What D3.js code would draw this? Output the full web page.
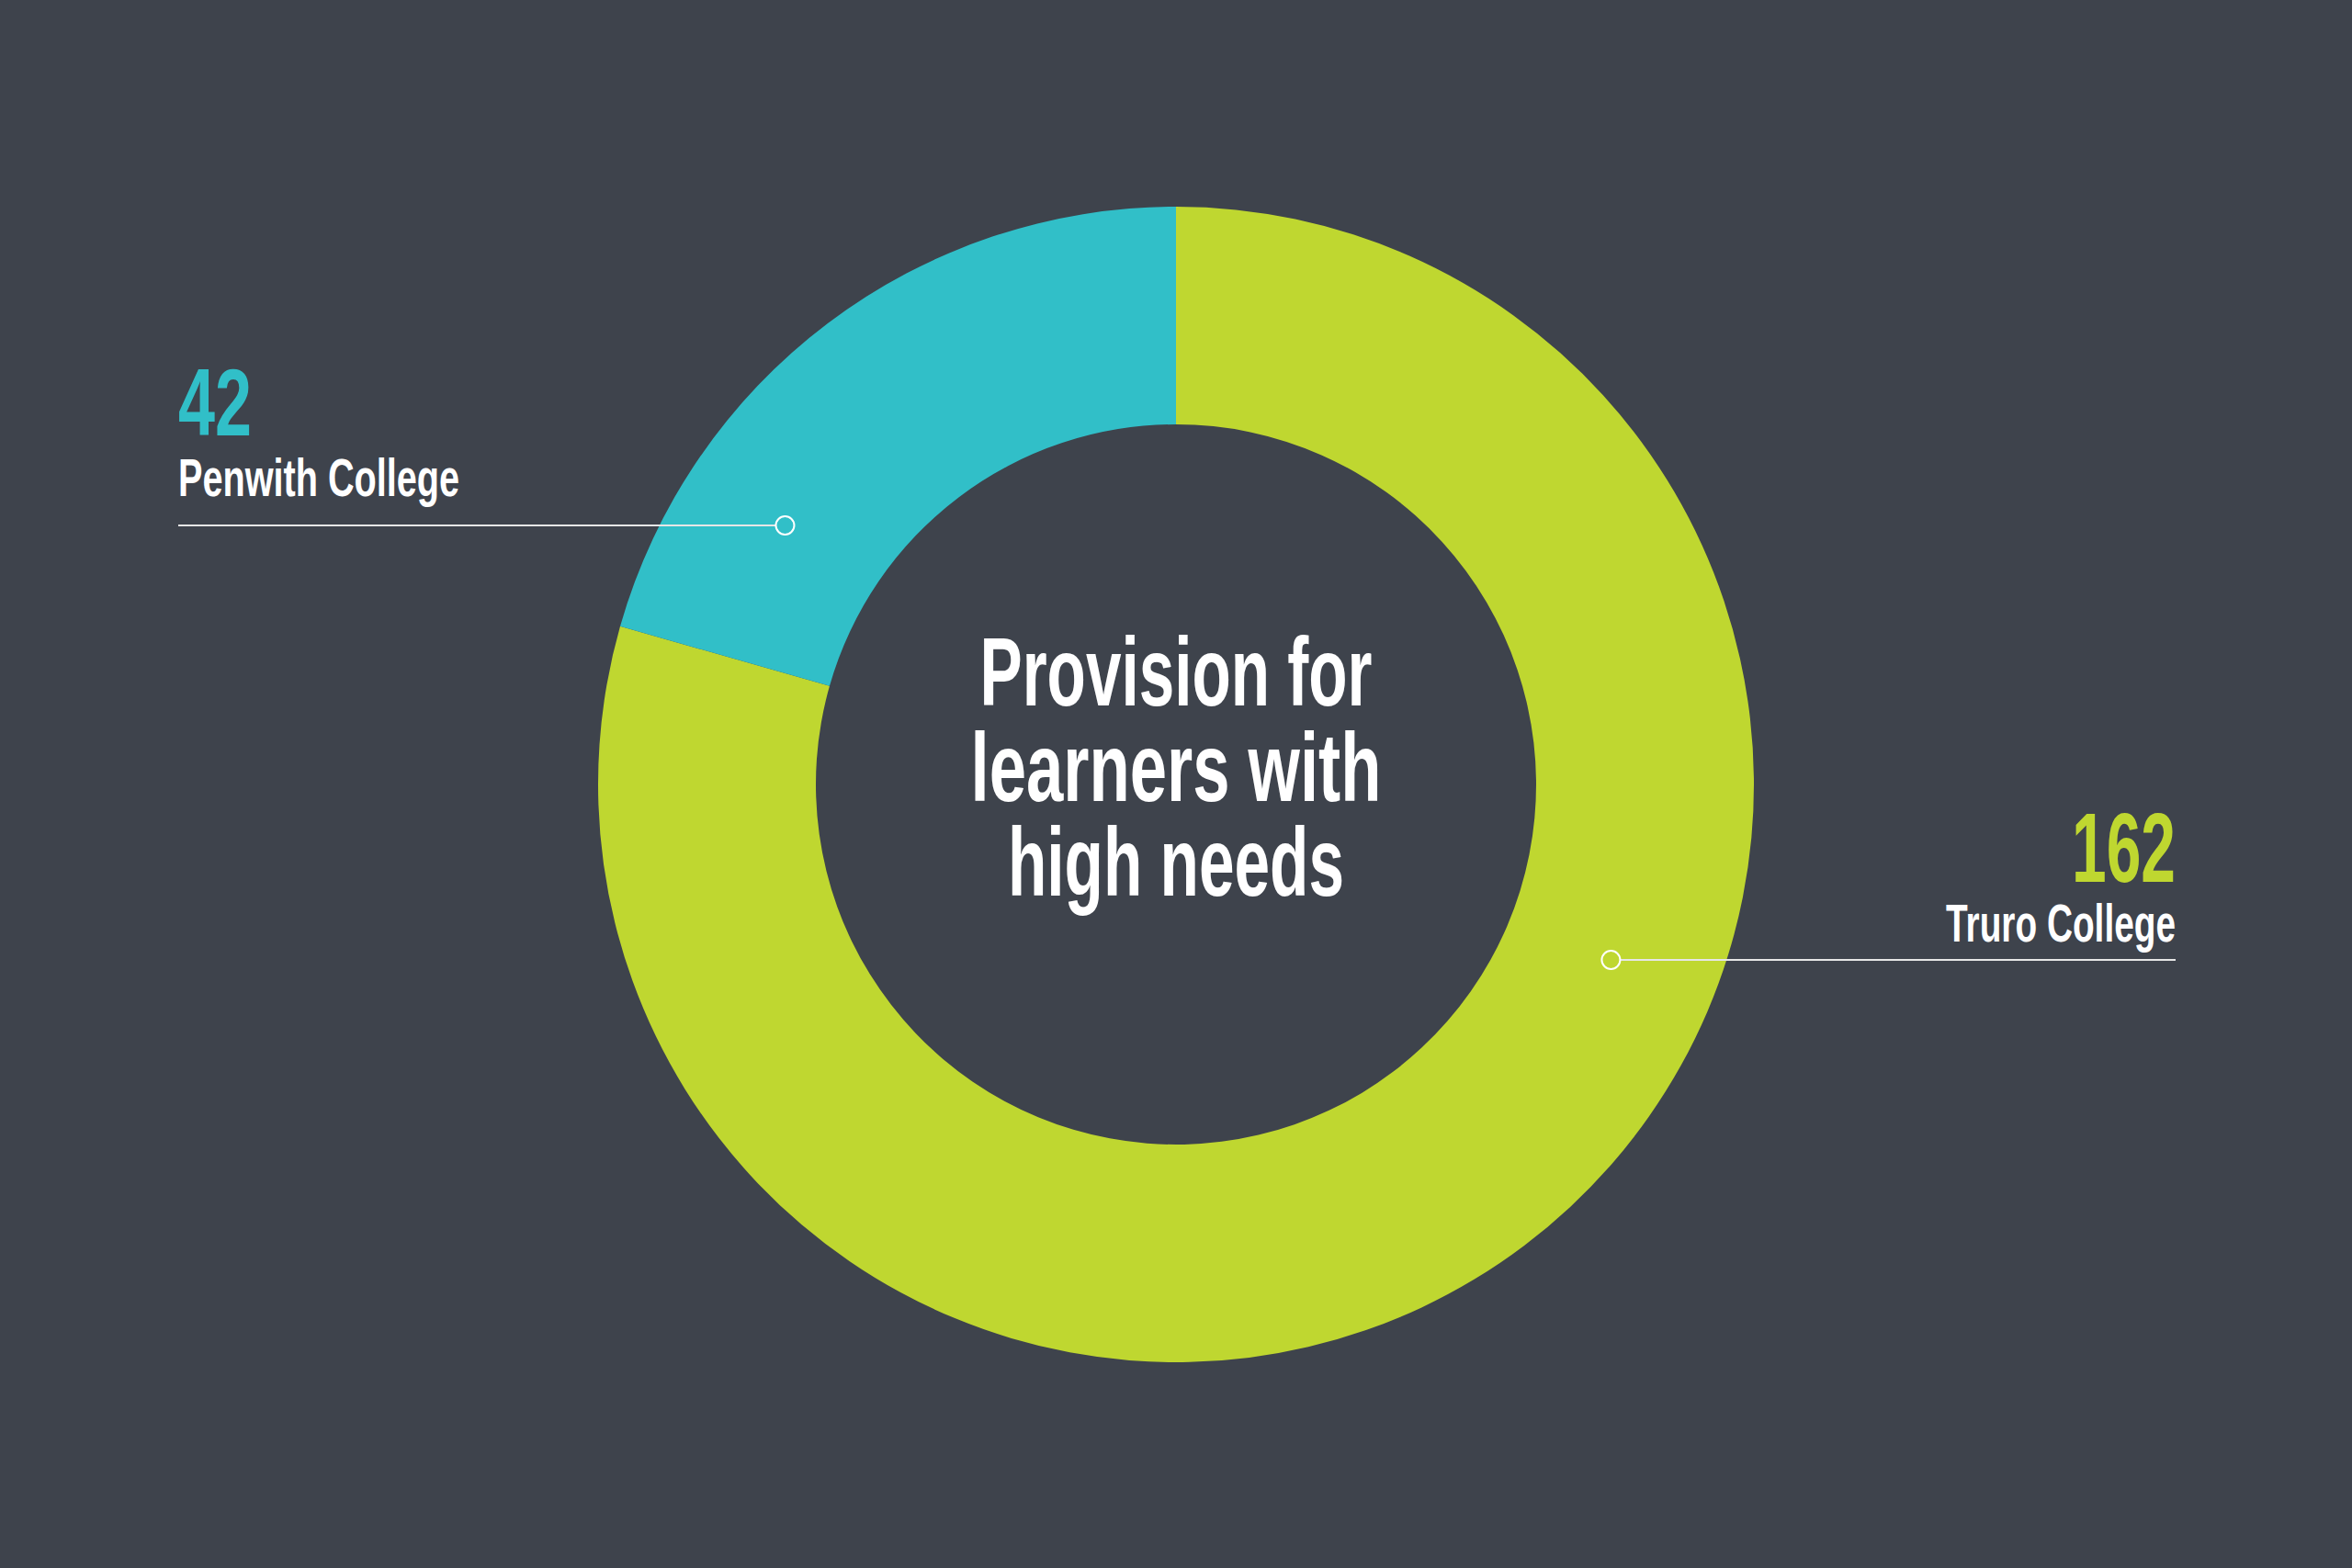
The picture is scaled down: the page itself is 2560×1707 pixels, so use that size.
<!DOCTYPE html>
<html>
<head>
<meta charset="utf-8">
<script src="https://cdn.jsdelivr.net/npm/d3@7"></script>
<style>
  html, body { margin: 0; padding: 0; background: #3e434c; }
  svg { display: block; }
  text { font-family: "Liberation Sans Narrow", "Liberation Sans", "DejaVu Sans Condensed", sans-serif; font-weight: bold; }
</style>
</head>
<body>
<svg id="chart"></svg>
<script>
// ---- data ----
const categories = ["Truro College", "Penwith College"];
const values = [162, 42];
const valueLabels = ["162", "42"];
const titleLines = ["Provision for", "learners with", "high needs"];
const colors = ["#bfd730", "#31bfc8"];

// ---- layout ----
const W = 2560, H = 1707;
const cx = 1280, cy = 854;
const rOuter = 629, rInner = 392;
const bg = "#3e434c";

const svg = d3.select("#chart").attr("width", W).attr("height", H);
svg.append("rect").attr("width", W).attr("height", H).attr("fill", bg);

const g = svg.append("g").attr("transform", `translate(${cx},${cy})`);

const pie = d3.pie().sort(null).value(d => d.value);
const data = categories.map((c, i) => ({ name: c, value: values[i], label: valueLabels[i], color: colors[i] }));
const arcs = pie(data);
const arc = d3.arc().innerRadius(rInner).outerRadius(rOuter);

g.selectAll("path.slice").data(arcs).enter().append("path")
  .attr("class", "slice")
  .attr("d", arc)
  .attr("fill", d => d.data.color);

// Title in center (one text element, one tspan per line)
const titleBaselines = [768, 872, 975];
const titleWidths = [427, 447, 366];
const title = svg.append("text")
  .attr("text-anchor", "middle")
  .attr("fill", "#ffffff")
  .attr("font-size", 106);
titleLines.forEach((t, i) => {
  title.append("tspan")
    .attr("x", cx).attr("y", titleBaselines[i])
    .attr("textLength", titleWidths[i])
    .attr("lengthAdjust", "spacingAndGlyphs")
    .text(t);
});

// Callouts
const rMid = (rInner + rOuter) / 2;
const callouts = [
  { idx: 1, side: "left",  lineY: 572, textX: 194, numBase: 474, nameBase: 540, numW: 80,  nameW: 306 },
  { idx: 0, side: "right", lineY: 1045, textX: 2368, numBase: 960, nameBase: 1025, numW: 113, nameW: 250 }
];

callouts.forEach(c => {
  const d = arcs[c.idx].data;
  const dy = c.lineY - cy;
  const dx = Math.sqrt(rMid * rMid - dy * dy) * (c.side === "left" ? -1 : 1);
  const px = cx + dx;
  const dotR = 10;
  const anchor = c.side === "left" ? "start" : "end";

  svg.append("line")
    .attr("x1", c.textX).attr("x2", c.side === "left" ? px - dotR : px + dotR)
    .attr("y1", c.lineY).attr("y2", c.lineY)
    .attr("stroke", "#e6e6e6").attr("stroke-width", 2);
  svg.append("circle")
    .attr("cx", px).attr("cy", c.lineY).attr("r", dotR)
    .attr("fill", "none").attr("stroke", "#ffffff").attr("stroke-width", 2);

  svg.append("text")
    .attr("x", c.textX).attr("y", c.numBase)
    .attr("text-anchor", anchor)
    .attr("fill", d.color)
    .attr("font-size", c.idx === 0 ? 108 : 104)
    .attr("textLength", c.numW)
    .attr("lengthAdjust", "spacingAndGlyphs")
    .text(d.label);

  svg.append("text")
    .attr("x", c.textX).attr("y", c.nameBase)
    .attr("text-anchor", anchor)
    .attr("fill", "#ffffff")
    .attr("font-size", 57)
    .attr("textLength", c.nameW)
    .attr("lengthAdjust", "spacingAndGlyphs")
    .text(d.name);
});
</script>
</body>
</html>
